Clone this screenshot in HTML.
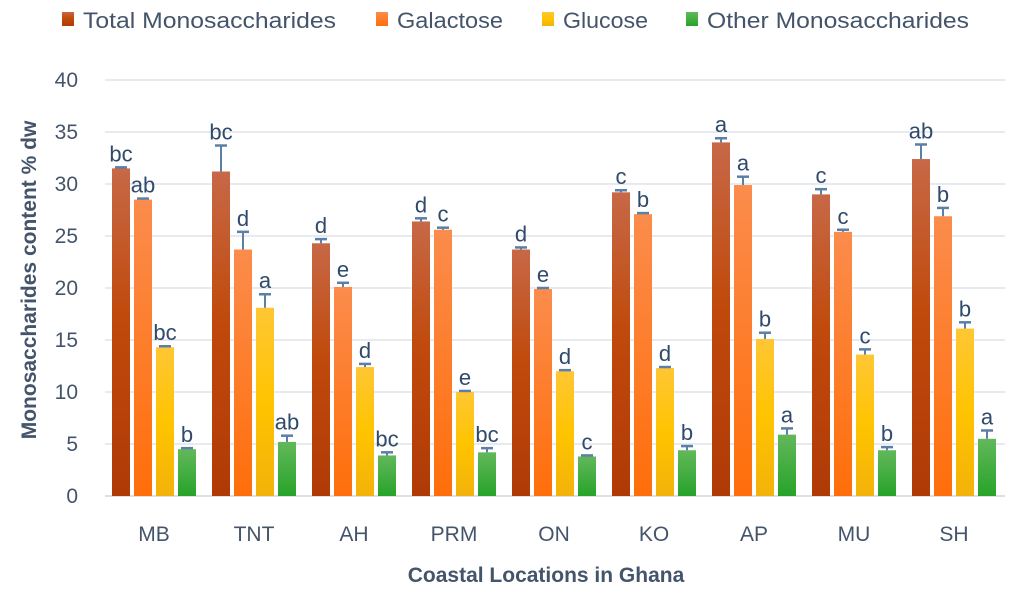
<!DOCTYPE html>
<html><head><meta charset="utf-8"><style>
body{margin:0;background:#fff;font-family:"Liberation Sans",sans-serif}
svg text{font-family:"Liberation Sans",sans-serif}
</style></head><body>
<svg id="c" width="1024" height="589">
<defs>
<linearGradient id="g0" x1="0" y1="0" x2="0" y2="1"><stop offset="0" stop-color="#c76847"/><stop offset="0.45" stop-color="#c04a0c"/><stop offset="1" stop-color="#b03a06"/></linearGradient>
<linearGradient id="g1" x1="0" y1="0" x2="0" y2="1"><stop offset="0" stop-color="#fb8c4c"/><stop offset="1" stop-color="#ff6e0a"/></linearGradient>
<linearGradient id="g2" x1="0" y1="0" x2="0" y2="1"><stop offset="0" stop-color="#ffc635"/><stop offset="0.5" stop-color="#ffc400"/><stop offset="1" stop-color="#f2b20a"/></linearGradient>
<linearGradient id="g3" x1="0" y1="0" x2="0" y2="1"><stop offset="0" stop-color="#62b85a"/><stop offset="1" stop-color="#27a32a"/></linearGradient>
</defs>
</svg>
<script>
const categories=["MB","TNT","AH","PRM","ON","KO","AP","MU","SH"];
const seriesNames=["Total Monosaccharides","Galactose","Glucose","Other Monosaccharides"];
const total=[31.5,31.2,24.3,26.4,23.7,29.2,34.0,29.0,32.4];
const galactose=[28.5,23.7,20.1,25.6,19.9,27.1,29.9,25.4,26.9];
const glucose=[14.3,18.1,12.4,10.0,12.0,12.3,15.1,13.6,16.1];
const other=[4.5,5.2,3.9,4.2,3.8,4.4,5.9,4.4,5.5];
const errTotal=[0.1,2.5,0.4,0.3,0.2,0.2,0.4,0.5,1.4];
const errGal=[0.1,1.7,0.4,0.2,0.1,0.1,0.8,0.2,0.8];
const errGlu=[0.1,1.3,0.3,0.1,0.1,0.1,0.6,0.5,0.6];
const errOther=[0.1,0.6,0.3,0.4,0.1,0.4,0.6,0.3,0.8];
const letTotal=["bc","bc","d","d","d","c","a","c","ab"];
const letGal=["ab","d","e","c","e","b","a","c","b"];
const letGlu=["bc","a","d","e","d","d","b","c","b"];
const letOther=["b","ab","bc","bc","c","b","a","b","a"];
const yTicks=[0,5,10,15,20,25,30,35,40];
const NS="http://www.w3.org/2000/svg";
const svg=document.getElementById("c");
const y=v=>496-v*10.4;
const xc=i=>154+i*100;
function mk(t,a,txt){const e=document.createElementNS(NS,t);for(const k in a)e.setAttribute(k,a[k]);if(txt!==undefined)e.textContent=txt;svg.appendChild(e);return e;}
yTicks.forEach(t=>{
 if(t>0){const gl=mk("line",{x1:105,x2:1005,y1:y(t),y2:y(t),stroke:"#dfe3e8","stroke-width":1.5});
 
 }
 const tl=mk("text",{x:78,y:y(t)+7,"text-anchor":"end","font-size":21,fill:"#44546a"},t);
 
 
});
const ax=mk("line",{x1:105,x2:1005,y1:496,y2:496,stroke:"#d0d5db","stroke-width":1.5});


const S=[[total,errTotal,letTotal],[galactose,errGal,letGal],[glucose,errGlu,letGlu],[other,errOther,letOther]];
const offs=[-42,-20,2,24];
categories.forEach((c,i)=>{
 S.forEach((s,k)=>{
  const v=s[0][i],e=s[1][i],x=xc(i)+offs[k];
  const r=mk("rect",{x:x,y:y(v),width:18,height:496-y(v),fill:"url(#g"+k+")"});
  
  
  const ex=x+9,et=y(v+e);
  const l1=mk("line",{x1:ex,x2:ex,y1:y(v),y2:et,stroke:"#5b7fa6","stroke-width":2});
  
  
  const l2=mk("line",{x1:ex-6,x2:ex+6,y1:et,y2:et,stroke:"#5b7fa6","stroke-width":2.5});
  
  
  const lt=mk("text",{x:ex,y:et-6,"text-anchor":"middle","font-size":22,fill:"#2f4a6b"},s[2][i]);
  
  
 });
 const xl=mk("text",{x:xc(i),y:541,"text-anchor":"middle","font-size":21,fill:"#44546a"},c);
 
 
});
const xt=mk("text",{x:546,y:582,"text-anchor":"middle","font-size":21,"font-weight":"bold",fill:"#44546a"},"Coastal Locations in Ghana");


const yt=mk("text",{x:0,y:0,transform:"translate(36,280) rotate(-90)","text-anchor":"middle","font-size":21,"font-weight":"bold",fill:"#44546a"},"Monosaccharides content % dw");


const lx=[62,376,542,686];
const lw=[253,106,85,262];
seriesNames.forEach((n,k)=>{
 const sq=mk("rect",{x:lx[k],y:12,width:12,height:14,fill:"url(#g"+k+")"});
 
 
 const t=mk("text",{x:lx[k]+21,y:28,"font-size":22,fill:"#44546a",textLength:lw[k],lengthAdjust:"spacingAndGlyphs"},n);
 
 
});
</script>
</body></html>
